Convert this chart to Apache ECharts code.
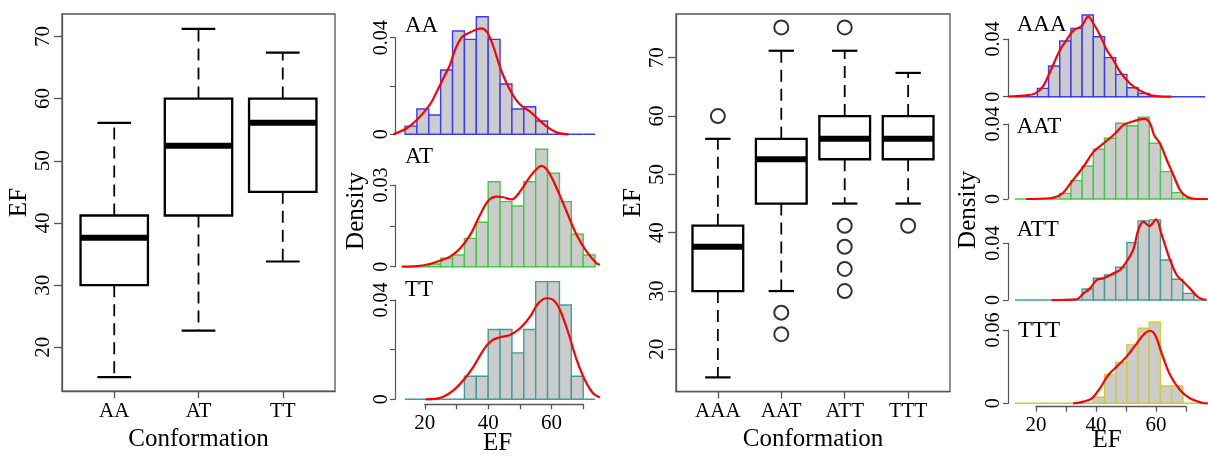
<!DOCTYPE html>
<html>
<head>
<meta charset="utf-8">
<script src="https://cdn.jsdelivr.net/npm/echarts@6/dist/echarts.min.js"></script>
<style>html,body{margin:0;padding:0;background:#fff;}#c{width:1208px;height:457px;}</style>
</head>
<body>
<div id="c"></div>
<script>
// ---------------- data ----------------
const leftCats = ['AA', 'AT', 'TT'];
const leftBox = [ // [low whisker, Q1, median, Q3, high whisker]
  [15.2, 30.0, 37.6, 41.2, 56.1],
  [22.7, 41.2, 52.4, 60.0, 71.2],
  [33.8, 45.0, 56.1, 60.0, 67.4]
];
const rightCats = ['AAA', 'AAT', 'ATT', 'TTT'];
const rightBox = [
  [15.2, 30.0, 37.6, 41.2, 56.1],
  [30.0, 45.0, 52.6, 56.1, 71.2],
  [45.0, 52.6, 56.1, 60.0, 71.2],
  [45.0, 52.6, 56.1, 60.0, 67.4]
];
const rightOutliers = [[60.0], [75.2, 26.3, 22.6], [75.2, 41.2, 37.6, 33.8, 30.0], [41.2]];
const efTicks = [20, 30, 40, 50, 60, 70];

const histXTicks = [20, 30, 40, 50, 60, 70];
const histXLabels = [20, 40, 60];

const midBreaks = [13.75, 17.5, 21.25, 25, 28.75, 32.5, 36.25, 40, 43.75, 47.5, 51.25, 55, 58.75, 62.5, 66.25, 70, 73.75];
const histAA = [0.0034, 0.0105, 0.008, 0.0266, 0.0428, 0.0393, 0.0487, 0.0393, 0.0208, 0.0105, 0.0114, 0.0055, 0, 0, 0, 0];
const histAT = [0, 0, 0.001, 0.0031, 0.0043, 0.0104, 0.0163, 0.0312, 0.0239, 0.0223, 0.0312, 0.0431, 0.0343, 0.0239, 0.0119, 0.0043];
const histTT = [0, 0, 0, 0, 0, 0.0093, 0.0093, 0.0281, 0.0281, 0.0187, 0.0281, 0.0474, 0.0474, 0.038, 0.0093, 0];

const rightBreaks = [13.0, 16.73, 20.46, 24.19, 27.92, 31.65, 35.38, 39.11, 42.84, 46.57, 50.3, 54.03, 57.76, 61.49, 65.22, 68.95, 72.68, 76.41];
const histAAA = [0, 0, 0.0058, 0.0213, 0.0386, 0.0474, 0.0566, 0.0416, 0.0271, 0.0155, 0.0062, 0.0023, 0, 0, 0, 0, 0];
const histAAT = [0, 0, 0, 0, 0.003, 0.0098, 0.0176, 0.0265, 0.0324, 0.0404, 0.0391, 0.0436, 0.0297, 0.0146, 0.0034, 0, 0];
const histATT = [0, 0, 0, 0, 0, 0, 0.0078, 0.0153, 0.0176, 0.0231, 0.0405, 0.0558, 0.0565, 0.0282, 0.0146, 0.0047, 0];
const histTTT = [0, 0, 0, 0, 0, 0, 0, 0.0049, 0.0237, 0.0335, 0.0477, 0.0614, 0.0663, 0.0142, 0.0142, 0, 0];

const densAA = [[10.07,0],[14.28,0.0025],[17.43,0.0059],[20.06,0.0097],[22.17,0.0135],[24.27,0.019],[26.38,0.0246],[27.95,0.0287],[29.53,0.0349],[31.64,0.0401],[34.27,0.0422],[36.37,0.0434],[37.95,0.0439],[39.53,0.0425],[41.11,0.0383],[42.68,0.0321],[44.26,0.0259],[46.37,0.0197],[48.47,0.0149],[50.58,0.0117],[53.21,0.0094],[55.84,0.0062],[58.47,0.0032],[61.62,0.0008],[65.31,0]];
const densAT = [[12.7,0],[17.43,0.0002],[20.59,0.0007],[24.8,0.0022],[27.95,0.0037],[31.11,0.0067],[34.27,0.0116],[37.42,0.019],[40.05,0.0242],[42.68,0.0257],[44.79,0.0255],[47.42,0.0247],[50.05,0.0276],[53.21,0.0331],[55.84,0.0365],[56.89,0.037],[58.99,0.0349],[61.62,0.0288],[64.78,0.0202],[67.94,0.0116],[71.09,0.0055],[74.25,0.0012],[75.3,0.0008]];
const densTT = [[20.27,0],[23.75,0.0003],[25.85,0.001],[29.01,0.0036],[32.16,0.0077],[35.32,0.0131],[38.48,0.0198],[41.11,0.0236],[43.74,0.025],[46.89,0.0259],[50.05,0.0286],[53.21,0.0333],[55.84,0.0387],[58.47,0.0407],[60.57,0.04],[62.68,0.036],[65.31,0.0267],[67.94,0.0159],[70.57,0.0077],[73.2,0.0023],[75.3,0.0007]];
const densAAA = [[10.8,0],[15.8,0.0007],[19.7,0.0023],[22.4,0.0074],[24.7,0.0173],[28.0,0.0324],[30.2,0.0393],[32.4,0.0458],[35.2,0.049],[37.4,0.0555],[39.1,0.0509],[41.3,0.0428],[43.6,0.0324],[45.8,0.0254],[48.0,0.0173],[51.3,0.0092],[54.7,0.0042],[58.0,0.0012],[61.3,0.0002],[65.2,0]];
const densAAT = [[16.7,0],[24.7,0.0004],[28.6,0.0027],[31.9,0.0092],[35.8,0.0172],[39.1,0.025],[42.4,0.0295],[46.3,0.0348],[49.1,0.0394],[51.9,0.0412],[54.7,0.0425],[56.3,0.0427],[58.0,0.0404],[59.4,0.034],[61.3,0.0297],[63.6,0.0208],[65.8,0.0128],[68.0,0.0048],[70.2,0.0012],[73.6,0],[77.3,0]];
const densATT = [[25.2,0],[33.6,0.0005],[35.8,0.0047],[38.0,0.0082],[40.2,0.0141],[42.4,0.0153],[45.8,0.0188],[48.0,0.0212],[50.2,0.0271],[52.4,0.0353],[54.1,0.0494],[55.8,0.0553],[57.8,0.0522],[60.0,0.0569],[61.9,0.0459],[64.7,0.0282],[66.9,0.0176],[69.1,0.0129],[71.3,0.0082],[74.1,0.0019],[76.9,0]];
const densTTT = [[32.4,0],[35.8,0.0014],[38.6,0.0041],[41.3,0.0123],[44.1,0.0232],[46.9,0.03],[50.2,0.0382],[53.6,0.0491],[56.3,0.0573],[58.0,0.0594],[59.7,0.0559],[61.9,0.0409],[64.7,0.0232],[68.0,0.0109],[71.3,0.0041],[75.2,0.0005],[77.3,0]];

// ---------------- styling ----------------
const FONT = 'Liberation Serif';
const AXC = '#555';
const COL = { blue: '#3a3aff', green: '#44c944', teal: '#3d9e9e', yellow: '#cccc33' };

function renderBox(params, api) {
  const x = api.value(0);
  const v = [1, 2, 3, 4, 5].map(i => api.value(i));
  const cx = api.coord([x, v[2]])[0];
  const ys = v.map(val => api.coord([x, val])[1]);
  const half = api.size([0.4, 0])[0];
  const cap = api.size([0.2, 0])[0];
  const k = '#000';
  return { type: 'group', children: [
    { type: 'line', shape: { x1: cx, y1: ys[1], x2: cx, y2: ys[0] }, style: { stroke: k, lineWidth: 1.8, lineDash: [12, 7] } },
    { type: 'line', shape: { x1: cx, y1: ys[3], x2: cx, y2: ys[4] }, style: { stroke: k, lineWidth: 1.8, lineDash: [12, 7] } },
    { type: 'line', shape: { x1: cx - cap, y1: ys[0], x2: cx + cap, y2: ys[0] }, style: { stroke: k, lineWidth: 2.2 } },
    { type: 'line', shape: { x1: cx - cap, y1: ys[4], x2: cx + cap, y2: ys[4] }, style: { stroke: k, lineWidth: 2.2 } },
    { type: 'rect', shape: { x: cx - half, y: ys[3], width: 2 * half, height: ys[1] - ys[3] }, style: { fill: 'rgba(0,0,0,0)', stroke: k, lineWidth: 2.3 } },
    { type: 'line', shape: { x1: cx - half, y1: ys[2], x2: cx + half, y2: ys[2] }, style: { stroke: k, lineWidth: 6 } }
  ]};
}

function renderBar(color) {
  return function (params, api) {
    const p0 = api.coord([api.value(0), api.value(2)]);
    const p1 = api.coord([api.value(1), 0]);
    return { type: 'rect', shape: { x: p0[0], y: p0[1], width: p1[0] - p0[0], height: p1[1] - p0[1] },
      style: { fill: '#cccccc', stroke: color, lineWidth: 1.4 } };
  };
}

function binRows(breaks, dens) {
  return dens.map((d, i) => [breaks[i], breaks[i + 1], d]);
}

// grids
const grids = [
  { left: 62, top: 14, width: 273, height: 382, show: true, borderColor: AXC, borderWidth: 1.3, backgroundColor: 'rgba(0,0,0,0)' },
  { left: 676, top: 14, width: 274, height: 382, show: true, borderColor: AXC, borderWidth: 1.3, backgroundColor: 'rgba(0,0,0,0)' },
  { left: 395, top: 37.7, width: 205, height: 96.6 },
  { left: 395, top: 185, width: 205, height: 81.7 },
  { left: 395, top: 300, width: 205, height: 99.3 },
  { left: 1008, top: 39, width: 200, height: 57.7 },
  { left: 1008, top: 124, width: 200, height: 75 },
  { left: 1008, top: 243.3, width: 200, height: 56.7 },
  { left: 1008, top: 330, width: 200, height: 73.3 },
  { left: 424.8, top: 403.3, width: 158.4, height: 1 },
  { left: 1036, top: 405.7, width: 150, height: 1 }
];

const tickLbl = { fontFamily: FONT, fontSize: 21, color: '#000' };

function boxX(gi, cats, min, max, margin) {
  const vals = cats.map((c, i) => i + 1);
  return { gridIndex: gi, type: 'value', min, max,
    axisLine: { show: true, lineStyle: { color: AXC, width: 1.3 } },
    axisTick: { show: true, length: 7, customValues: vals, lineStyle: { color: AXC, width: 1.3 } },
    axisLabel: Object.assign({ customValues: vals, margin, formatter: v => cats[Math.round(v) - 1] || '' }, tickLbl),
    splitLine: { show: false },
    name: 'Conformation', nameLocation: 'middle', nameGap: 32,
    nameTextStyle: { fontFamily: FONT, fontSize: 25, color: '#000' } };
}
function boxY(gi, min, max, gap) {
  return { gridIndex: gi, type: 'value', min, max,
    axisLine: { show: true, lineStyle: { color: AXC, width: 1.3 } },
    axisTick: { show: true, length: 8, customValues: efTicks, lineStyle: { color: AXC, width: 1.3 } },
    axisLabel: Object.assign({ customValues: efTicks, rotate: 90, margin: 8, formatter: v => String(v) }, tickLbl),
    splitLine: { show: false },
    name: 'EF', nameLocation: 'middle', nameGap: gap,
    nameTextStyle: { fontFamily: FONT, fontSize: 25, color: '#000' } };
}
function histX(gi, min, max) {
  return { gridIndex: gi, type: 'value', min, max, show: false, splitLine: { show: false } };
}
function histY(gi, max, ticks, labels, margin) {
  return { gridIndex: gi, type: 'value', min: 0, max,
    axisLine: { show: true, lineStyle: { color: AXC, width: 1.2 } },
    axisTick: { show: true, length: 5, customValues: ticks, lineStyle: { color: AXC, width: 1.2 } },
    axisLabel: { customValues: labels, rotate: 90, margin, formatter: v => String(v), fontFamily: FONT, fontSize: 20, color: '#000' },
    splitLine: { show: false } };
}
function bottomX(gi, margin) {
  return { gridIndex: gi, type: 'value', min: 20, max: 70, interval: 10,
    axisLine: { show: true, lineStyle: { color: AXC, width: 1.3 } },
    axisTick: { show: true, length: 5, customValues: histXTicks, lineStyle: { color: AXC, width: 1.3 } },
    axisLabel: Object.assign({ customValues: histXLabels, margin, formatter: v => String(v) }, tickLbl),
    splitLine: { show: false } };
}

const midMin = 10.59, midMax = 75.3, rMin = 10.667, rMax = 77.333;

const xAxes = [
  boxX(0, leftCats, 0.38, 3.62, 10),
  boxX(1, rightCats, 0.34, 4.66, 9.5),
  histX(2, midMin, midMax), histX(3, midMin, midMax), histX(4, midMin, midMax),
  histX(5, rMin, rMax), histX(6, rMin, rMax), histX(7, rMin, rMax), histX(8, rMin, rMax),
  bottomX(9, 8.5), bottomX(10, 8)
];
const yAxes = [
  boxY(0, 12.96, 73.6, 28.5),
  boxY(1, 12.76, 77.5, 29.5),
  histY(2, 0.04, [0, 0.02, 0.04], [0, 0.04], 3),
  histY(3, 0.03, [0, 0.015, 0.03], [0, 0.03], 3),
  histY(4, 0.04, [0, 0.02, 0.04], [0, 0.04], 3),
  histY(5, 0.04, [0, 0.04], [0, 0.04], 4),
  histY(6, 0.04, [0, 0.04], [0, 0.04], 4),
  histY(7, 0.04, [0, 0.04], [0, 0.04], 4),
  histY(8, 0.06, [0, 0.06], [0, 0.06], 4),
  { gridIndex: 9, type: 'value', show: false },
  { gridIndex: 10, type: 'value', show: false }
];

const series = [
  { type: 'custom', xAxisIndex: 0, yAxisIndex: 0, renderItem: renderBox, encode: { x: 0, y: [1, 2, 3, 4, 5] },
    data: leftBox.map((b, i) => [i + 1].concat(b)) },
  { type: 'custom', xAxisIndex: 1, yAxisIndex: 1, renderItem: renderBox, encode: { x: 0, y: [1, 2, 3, 4, 5] },
    data: rightBox.map((b, i) => [i + 1].concat(b)) },
  { type: 'scatter', xAxisIndex: 1, yAxisIndex: 1, symbol: 'circle', symbolSize: 14,
    itemStyle: { color: 'rgba(0,0,0,0)', borderColor: '#000', borderWidth: 2 },
    data: rightOutliers.flatMap((arr, i) => arr.map(v => [i + 1, v])) }
];

const panels = [
  [2, midBreaks, histAA, densAA, COL.blue],
  [3, midBreaks, histAT, densAT, COL.green],
  [4, midBreaks, histTT, densTT, COL.teal],
  [5, rightBreaks, histAAA, densAAA, COL.blue],
  [6, rightBreaks, histAAT, densAAT, COL.green],
  [7, rightBreaks, histATT, densATT, COL.teal],
  [8, rightBreaks, histTTT, densTTT, COL.yellow]
];
panels.forEach(([gi, br, h, d, col]) => {
  series.push({ type: 'custom', xAxisIndex: gi, yAxisIndex: gi, renderItem: renderBar(col),
    encode: { x: [0, 1], y: 2 }, data: binRows(br, h), z: 2 });
  series.push({ type: 'line', xAxisIndex: gi, yAxisIndex: gi, data: d, showSymbol: false, symbol: 'none',
    smooth: 0.35, clip: false, lineStyle: { color: '#ff0000', width: 2.2 }, z: 3 });
});

function txt(text, x, y, size, align, rot) {
  return { type: 'text', x, y, rotation: rot || 0,
    style: { text, fontFamily: FONT, fontSize: size, fill: '#000', align: align || 'center', verticalAlign: 'middle' } };
}
const graphic = [
  txt('AA', 405, 25.5, 23, 'left'),
  txt('AT', 405, 157, 23, 'left'),
  txt('TT', 405, 290, 23, 'left'),
  txt('AAA', 1016.7, 24.5, 23, 'left'),
  txt('AAT', 1016.7, 127, 23, 'left'),
  txt('ATT', 1016.7, 230.3, 23, 'left'),
  txt('TTT', 1018, 330.8, 23, 'left'),
  txt('Density', 356, 211, 25, 'center', Math.PI / 2),
  txt('Density', 968, 210, 25, 'center', Math.PI / 2),
  txt('EF', 497.5, 443, 25, 'center'),
  txt('EF', 1107, 440, 25, 'center')
];

const chart = echarts.init(document.getElementById('c'), null, { renderer: 'canvas' });
chart.setOption({
  animation: false,
  backgroundColor: '#fff',
  grid: grids,
  xAxis: xAxes,
  yAxis: yAxes,
  series,
  graphic
});
</script>
</body>
</html>
